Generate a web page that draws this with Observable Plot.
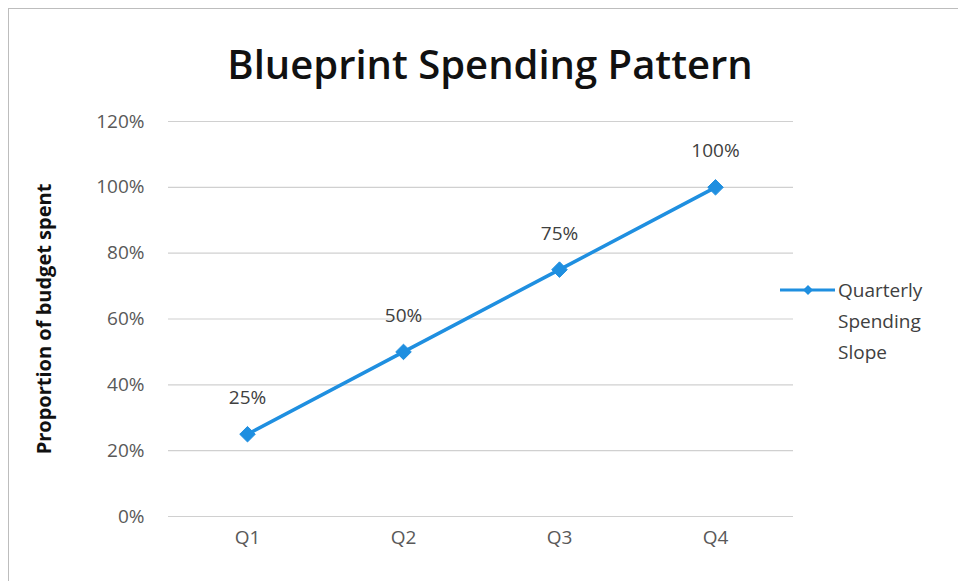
<!DOCTYPE html>
<html><head><meta charset="utf-8">
<script src="https://cdn.jsdelivr.net/npm/d3@7"></script>
<script src="https://cdn.jsdelivr.net/npm/@observablehq/plot@0.6"></script>
<style>
body{margin:0;background:#fff;font-family:"Open Sans",sans-serif;}
#wrap{position:relative;width:958px;height:581px;overflow:hidden;}
#border{position:absolute;left:8px;top:8px;width:960px;height:600px;border:1.5px solid #bdbdbd;box-sizing:border-box;}
#title{position:absolute;left:0;width:980px;top:36px;text-align:center;font-size:40px;font-weight:600;color:#111;line-height:56px;}
#legend{position:absolute;left:780px;top:275px;display:flex;align-items:flex-start;}
#legend .txt{font-size:19px;color:#404040;line-height:31px;margin-left:3px;}
#chart{position:absolute;left:0;top:0;}
</style></head>
<body>
<div id="wrap">
<div id="border"></div>
<div id="chart"></div>
<div id="title">Blueprint Spending Pattern</div>
<div id="legend"><svg width="55" height="30"><line x1="0" y1="15" x2="55" y2="15" stroke="#1f8fe0" stroke-width="3"/><path d="M28,10L33,15L28,20L23,15Z" fill="#1f8fe0"/></svg><div class="txt">Quarterly<br>Spending<br>Slope</div></div>
</div>
<script>
const quarters = ["Q1","Q2","Q3","Q4"];
const spent = [0.25, 0.50, 0.75, 1.00];
const yTicks = [0, 0.2, 0.4, 0.6, 0.8, 1.0, 1.2];
const yTitle = "Proportion of budget spent";
const data = quarters.map((q,i)=>({q, v: spent[i]}));
const blue = "#1f8fe0";
const pct = d => Math.round(d*100) + "%";
const chart = Plot.plot({
  width: 958, height: 581,
  marginLeft: 168, marginRight: 165, marginTop: 121, marginBottom: 65,
  style: {fontFamily: "Open Sans, sans-serif", fontSize: "19px", color: "#595959", background: "transparent"},
  x: {type: "point", domain: quarters, padding: 0.5, label: null},
  y: {domain: [0, 1.2], label: null},
  marks: [
    Plot.gridY(yTicks, {stroke: "#d0d0d0", strokeOpacity: 1, strokeWidth: 1.2}),
    Plot.axisY({ticks: yTicks, tickFormat: pct, tickSize: 0, tickPadding: 24, label: null, fontSize: 19}),
    Plot.axisX({tickSize: 0, tickPadding: 14, label: null, fontSize: 19}),
    Plot.line(data, {x: "q", y: "v", stroke: blue, strokeWidth: 3.5}),
    Plot.dot(data, {x: "q", y: "v", symbol: "diamond2", r: 7, fill: blue, stroke: blue, strokeWidth: 1}),
    Plot.text(data, {x: "q", y: "v", text: d => pct(d.v), dy: -36, fontSize: 19, fill: "#404040"}),
    Plot.text([yTitle], {frameAnchor: "left", text: d => d, rotate: -90, textAnchor: "middle", dx: -124, fontWeight: "bold", fontSize: 20, fill: "#111"})
  ]
});
document.getElementById("chart").appendChild(chart);
</script>
</body></html>
